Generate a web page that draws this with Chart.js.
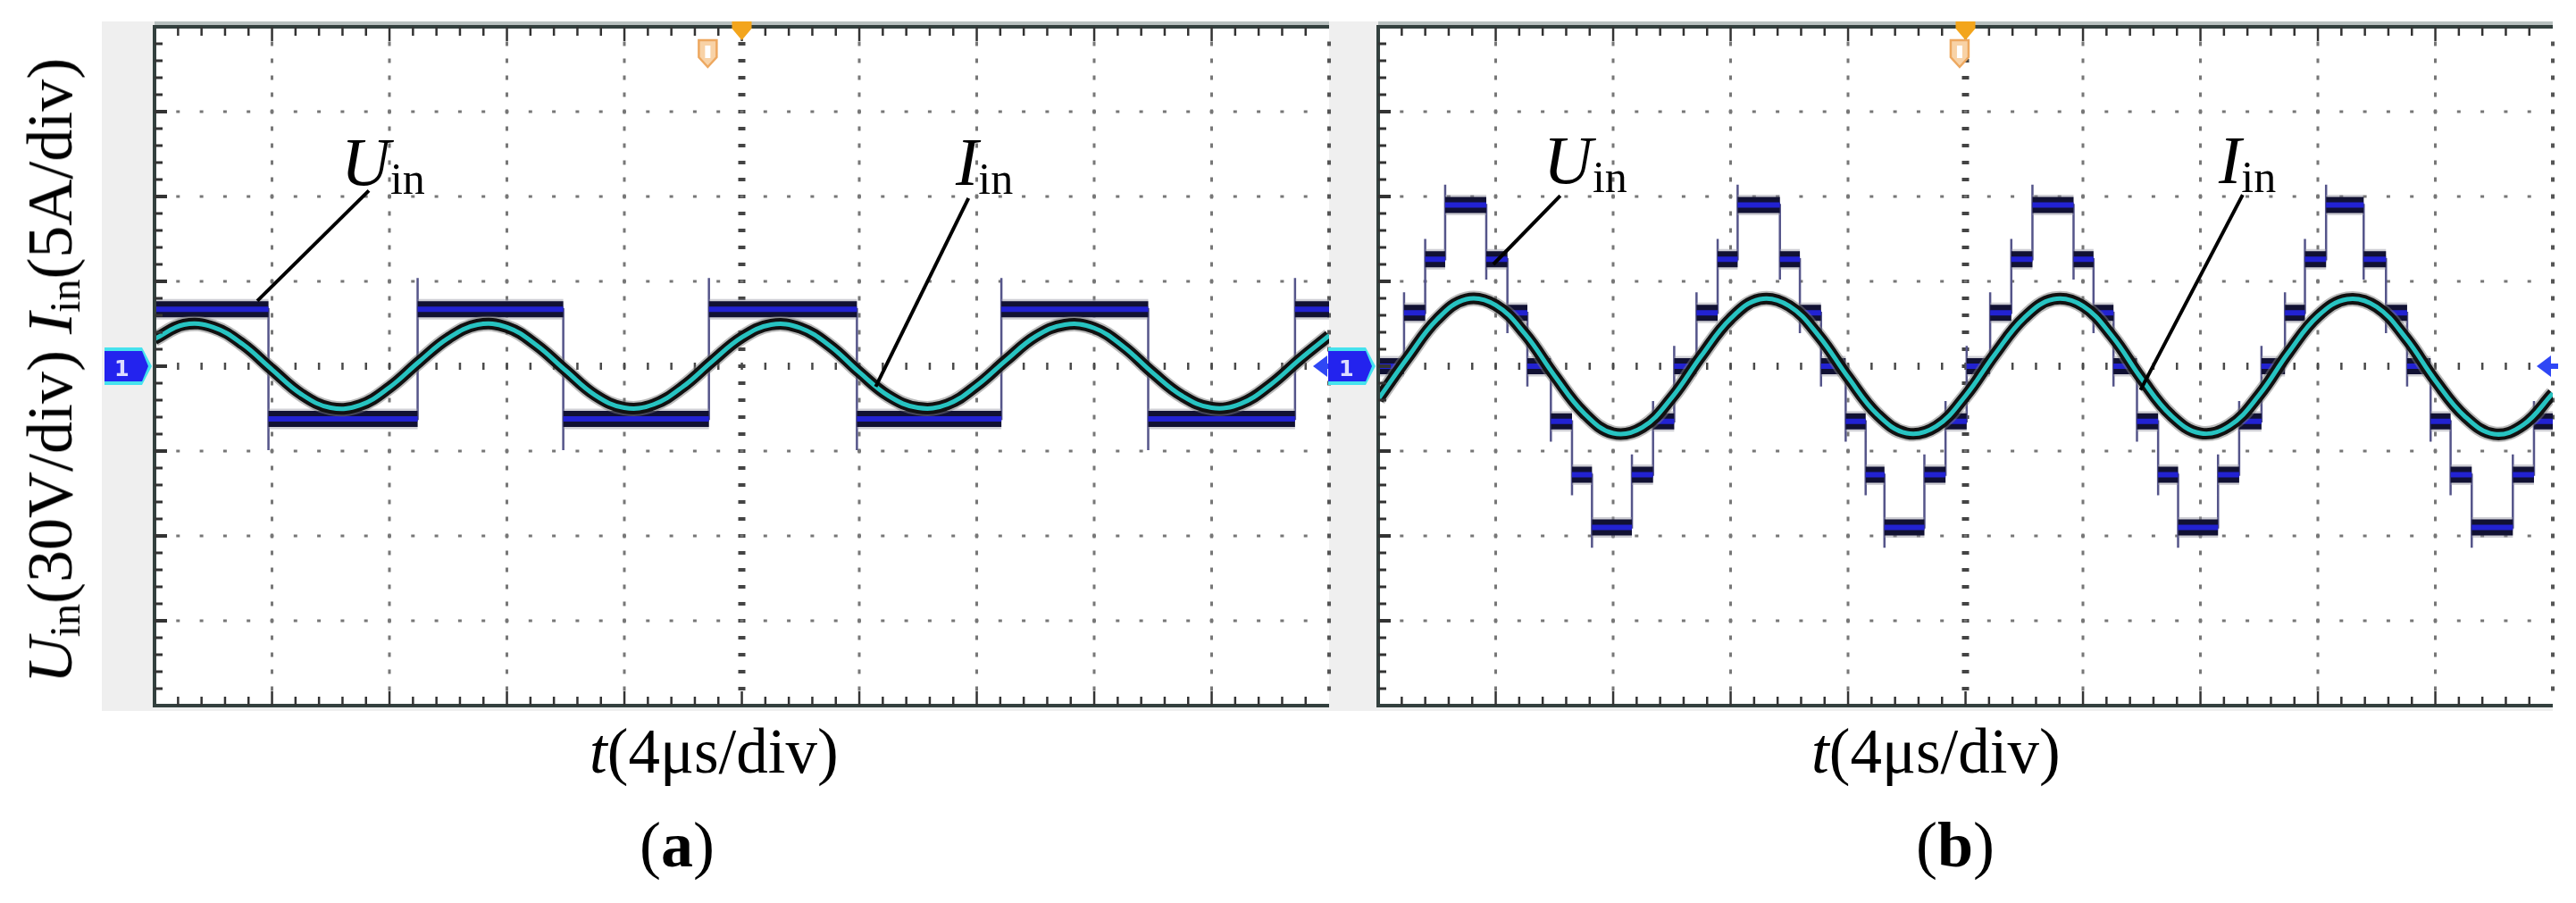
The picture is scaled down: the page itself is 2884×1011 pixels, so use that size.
<!DOCTYPE html>
<html>
<head>
<meta charset="utf-8">
<script src="https://cdn.jsdelivr.net/npm/chart.js@4.4.1/dist/chart.umd.min.js"></script>
<style>
  html, body { margin: 0; padding: 0; background: #fff; }
  #page { position: relative; width: 2884px; height: 1011px; overflow: hidden;
          font-family: 'Liberation Serif', 'Times New Roman', serif; color: #000; }
  #page canvas { position: absolute; left: 0; top: 0; }
  .backdrop { position: absolute; left: 114px; top: 24px; width: 2744px; height: 772px; background: #efefef; }
  .lbl { position: absolute; white-space: nowrap; z-index: 5; }
  .tag { font-size: 76px; line-height: 76px; }
  .tag .sub { position: relative; top: 10px; font-size: 50px; }
  .xt { font-size: 71px; line-height: 71px; top: 806px; }
  .cap { font-size: 72px; line-height: 72px; top: 910px; }
  .ylab { font-size: 72px; line-height: 72px; left: 60px; top: 415px;
          transform: translate(-50%, -50%) rotate(-90deg); }
  .ylab .sub { position: relative; top: 9px; font-size: 48px; }
  .ch { font-family: 'DejaVu Sans', sans-serif; font-weight: bold; font-size: 24px; line-height: 24px; color: #dcdcff; top: 401px; }
</style>
</head>
<body>
<div id="page">
  <div class="backdrop"></div>
  <canvas id="scopeA" width="2884" height="1011"></canvas>
  <canvas id="scopeB" width="2884" height="1011"></canvas>

  <div class="lbl ylab"><i>U</i><span class="sub">in</span>(30V/div) <i>I</i><span class="sub">in</span>(5A/div)</div>

  <div class="lbl tag" style="left:382px; top:143px;"><i>U</i><span class="sub">in</span></div>
  <div class="lbl tag" style="left:1070px; top:143px;"><i>I</i><span class="sub">in</span></div>
  <div class="lbl tag" style="left:1728px; top:141px;"><i>U</i><span class="sub">in</span></div>
  <div class="lbl tag" style="left:2484px; top:141px;"><i>I</i><span class="sub">in</span></div>

  <div class="lbl xt" style="left:660px;"><i>t</i>(4μs/div)</div>
  <div class="lbl xt" style="left:2028px;"><i>t</i>(4μs/div)</div>
  <div class="lbl cap" style="left:716px;">(<b>a</b>)</div>
  <div class="lbl cap" style="left:2145px;">(<b>b</b>)</div>

  <div class="lbl ch" style="left:128px;">1</div>
  <div class="lbl ch" style="left:1499px;">1</div>
</div>

<script>
// x in time divisions (0..10, 4 us/div), y in vertical divisions (-4..4)

// (a) two-level input voltage: switching instants and level of each segment
const uinA_edges = [0.97, 2.24, 3.48, 4.72, 5.98, 7.21, 8.46, 9.71];
const uinA_levels = [0.67, -0.62, 0.67, -0.62, 0.67, -0.62, 0.67, -0.62, 0.67];
const uinA_overshoot = 0.37;

// (b) seven-level staircase input voltage
const uinB_edges = [
  0.22, 0.40, 0.57, 0.92, 1.10, 1.27, 1.47, 1.65, 1.82, 2.16, 2.34, 2.52,
  2.71, 2.89, 3.06, 3.42, 3.59, 3.77, 3.98, 4.15, 4.31, 4.65, 4.83, 5.01,
  5.21, 5.39, 5.57, 5.92, 6.09, 6.26, 6.46, 6.64, 6.81, 7.15, 7.33, 7.52,
  7.72, 7.89, 8.07, 8.39, 8.58, 8.76, 8.96, 9.13, 9.31, 9.66, 9.84
];
const uinB_levels = [
  0, 0.63, 1.26, 1.9, 1.26, 0.63, 0, -0.65, -1.28, -1.9, -1.28, -0.65,
  0, 0.63, 1.26, 1.9, 1.26, 0.63, 0, -0.65, -1.28, -1.9, -1.28, -0.65,
  0, 0.63, 1.26, 1.9, 1.26, 0.63, 0, -0.65, -1.28, -1.9, -1.28, -0.65,
  0, 0.63, 1.26, 1.9, 1.26, 0.63, 0, -0.65, -1.28, -1.9, -1.28, -0.65
];
const uinB_overshoot = 0.24;

// input current samples, read every quarter division
const iinTimes = [
  0, 0.25, 0.5, 0.75, 1, 1.25, 1.5, 1.75, 2, 2.25, 2.5, 2.75, 3, 3.25,
  3.5, 3.75, 4, 4.25, 4.5, 4.75, 5, 5.25, 5.5, 5.75, 6, 6.25, 6.5, 6.75,
  7, 7.25, 7.5, 7.75, 8, 8.25, 8.5, 8.75, 9, 9.25, 9.5, 9.75, 10
];
const iinA = [
  0.32, 0.49, 0.46, 0.26, -0.04, -0.33, -0.49, -0.46, -0.25, 0.05, 0.33, 0.49, 0.46, 0.25,
  -0.05, -0.34, -0.49, -0.45, -0.24, 0.06, 0.34, 0.49, 0.45, 0.24, -0.07, -0.35, -0.49, -0.45,
  -0.23, 0.07, 0.35, 0.49, 0.45, 0.23, -0.08, -0.35, -0.49, -0.44, -0.22, 0.08, 0.36
];
const iinB = [
  -0.39, 0.10, 0.55, 0.79, 0.72, 0.38, -0.11, -0.55, -0.79, -0.72, -0.37, 0.12, 0.56, 0.79,
  0.71, 0.36, -0.13, -0.57, -0.79, -0.71, -0.35, 0.14, 0.57, 0.79, 0.71, 0.35, -0.15, -0.58,
  -0.79, -0.70, -0.34, 0.16, 0.59, 0.79, 0.70, 0.33, -0.17, -0.59, -0.80, -0.69, -0.32
];

// thin trace with the switching edges (and their ringing spike)
function edgeTrace(edges, levels, over) {
  const pts = [{x: 0, y: levels[0]}];
  edges.forEach((t, i) => {
    const from = levels[i], to = levels[i + 1];
    const tip = to + (to > from ? over : -over);
    pts.push({x: t, y: from}, {x: t, y: tip}, {x: t, y: to});
  });
  pts.push({x: 10, y: levels[levels.length - 1]});
  return pts;
}

// flat parts of the voltage only, drawn as thick noisy bands
function bandTrace(edges, levels) {
  const bounds = [0, ...edges, 10];
  const pts = [];
  levels.forEach((lv, i) => {
    pts.push({x: bounds[i], y: lv}, {x: bounds[i + 1], y: lv}, {x: bounds[i + 1], y: null});
  });
  return pts;
}

function panelDatasets(edges, levels, over, iin) {
  const wave = iinTimes.map((t, i) => ({x: t, y: iin[i]}));
  const bands = bandTrace(edges, levels);
  return [
    {data: wave, borderColor: '#27c3c1', borderWidth: 5, tension: 0.4, order: 0},
    {data: wave, borderColor: '#111', borderWidth: 13, tension: 0.4, order: 1},
    {data: wave, borderColor: 'rgba(120,120,120,0.5)', borderWidth: 17, tension: 0.4, order: 2},
    {data: bands, borderColor: '#2222d2', borderWidth: 6, order: 3},
    {data: bands, borderColor: '#111133', borderWidth: 18, order: 4},
    {data: bands, borderColor: 'rgba(150,150,165,0.45)', borderWidth: 23, order: 5},
    {data: edgeTrace(edges, levels, over), borderColor: '#55558a', borderWidth: 2.5, order: 6}
  ];
}

// oscilloscope graticule, border ticks and screen markers
const scopeFrame = {
  id: 'scopeFrame',
  beforeDatasetsDraw(chart, args, opts) {
    const {ctx, chartArea: a, scales: {x, y}} = chart;
    ctx.save();
    ctx.fillStyle = '#fff';
    ctx.fillRect(a.left, a.top, a.right - a.left, a.bottom - a.top);

    // vertical dotted lines
    for (let i = 1; i <= 10; i++) {
      const px = x.getPixelForValue(i);
      for (let k = 1; k < 40; k++) {
        const py = y.getPixelForValue(-4 + k * 0.2);
        if (i === 5) { ctx.fillStyle = '#444'; ctx.fillRect(px - 4, py - 2, 8, 4); }
        else if (i === 10) { ctx.fillStyle = '#555'; ctx.fillRect(px - 2, py - 2.5, 4, 5); }
        else { ctx.fillStyle = '#777'; ctx.fillRect(px - 1.5, py - 2.5, 3, 5); }
      }
    }
    // horizontal dotted lines
    for (let j = -3; j <= 3; j++) {
      const py = y.getPixelForValue(j);
      for (let k = 1; k < 50; k++) {
        const px = x.getPixelForValue(k * 0.2);
        if (j === 0) { ctx.fillStyle = '#4a4a4a'; ctx.fillRect(px - 1.2, py - 4, 2.5, 8); }
        else { ctx.fillStyle = '#777'; ctx.fillRect(px - 2, py - 1.5, 4, 3); }
      }
    }
    ctx.restore();
  },
  afterDatasetsDraw(chart, args, opts) {
    const {ctx, chartArea: a, scales: {x, y}} = chart;
    const w = a.right - a.left;
    ctx.save();

    // frame
    ctx.fillStyle = '#b8c0bf';
    ctx.fillRect(a.left, a.top - 6, w, 4);
    ctx.fillStyle = '#33403e';
    ctx.fillRect(a.left, a.top - 2, w, 4);
    ctx.fillRect(a.left, a.bottom - 2, w, 4);
    ctx.fillRect(a.left - 2, a.top - 2, 4, a.bottom - a.top + 4);

    // ticks on top / bottom
    for (let k = 1; k < 50; k++) {
      const px = x.getPixelForValue(k * 0.2);
      const len = k % 5 === 0 ? 16 : 10;
      ctx.fillStyle = '#333';
      ctx.fillRect(px - 1.2, a.top, 2.5, len);
      ctx.fillRect(px - 1.2, a.bottom - len, 2.5, len);
    }
    // ticks on the left edge
    for (let k = 1; k < 40; k++) {
      const py = y.getPixelForValue(-4 + k * 0.2);
      const major = k % 5 === 0;
      ctx.fillStyle = '#333';
      ctx.fillRect(a.left, py - (major ? 2 : 1.5), major ? 14 : 9, major ? 4 : 3);
    }

    // leader lines for the labels
    ctx.strokeStyle = '#000';
    ctx.lineWidth = 4;
    ctx.lineCap = 'butt';
    opts.leaders.forEach(([x1, y1, x2, y2]) => {
      ctx.beginPath();
      ctx.moveTo(x.getPixelForValue(x1), y.getPixelForValue(y1));
      ctx.lineTo(x.getPixelForValue(x2), y.getPixelForValue(y2));
      ctx.stroke();
    });

    // trigger position (filled) and trigger level (hollow) markers
    const tx = x.getPixelForValue(5);
    ctx.fillStyle = '#f3a51c';
    ctx.beginPath();
    ctx.moveTo(tx - 11, a.top - 6);
    ctx.lineTo(tx + 11, a.top - 6);
    ctx.lineTo(tx + 11, a.top + 2);
    ctx.lineTo(tx, a.top + 15);
    ctx.lineTo(tx - 11, a.top + 2);
    ctx.closePath();
    ctx.fill();

    const hx = x.getPixelForValue(opts.hollowAt);
    const ht = a.top + 15;
    ctx.beginPath();
    ctx.moveTo(hx - 10, ht);
    ctx.lineTo(hx + 10, ht);
    ctx.lineTo(hx + 10, ht + 19);
    ctx.lineTo(hx, ht + 30);
    ctx.lineTo(hx - 10, ht + 19);
    ctx.closePath();
    ctx.fillStyle = '#f8d2a6';
    ctx.fill();
    ctx.strokeStyle = '#eda860';
    ctx.lineWidth = 2.5;
    ctx.stroke();
    ctx.fillStyle = '#fff';
    ctx.fillRect(hx - 3, ht + 6, 6, 14);

    // channel 1 ground marker on the left
    const gy = y.getPixelForValue(0);
    const l = a.left;
    const shape = (inset) => {
      ctx.beginPath();
      ctx.moveTo(l - 56, gy - 21 + inset);
      ctx.lineTo(l - 14, gy - 21 + inset);
      ctx.lineTo(l - 3 - inset, gy);
      ctx.lineTo(l - 14, gy + 21 - inset);
      ctx.lineTo(l - 56, gy + 21 - inset);
      ctx.closePath();
      ctx.fill();
    };
    ctx.fillStyle = '#45e2ee';
    shape(0);
    ctx.fillStyle = '#2323ee';
    shape(4);

    // channel arrow on the right edge
    const r = a.right;
    ctx.fillStyle = '#2f47f5';
    ctx.beginPath();
    ctx.moveTo(r - 18, gy);
    ctx.lineTo(r - 2, gy - 12);
    ctx.lineTo(r - 2, gy + 12);
    ctx.closePath();
    ctx.fill();
    ctx.fillRect(r - 4, gy - 3, 10, 6);

    ctx.restore();
  }
};

function scopeOptions(pad, opts) {
  return {
    responsive: false,
    animation: false,
    devicePixelRatio: 1,
    layout: {padding: pad},
    elements: {point: {radius: 0}, line: {borderCapStyle: 'butt', borderJoinStyle: 'miter'}},
    datasets: {line: {clip: 0, fill: false}},
    scales: {
      x: {type: 'linear', min: 0, max: 10, display: false},
      y: {type: 'linear', min: -4, max: 4, display: false}
    },
    plugins: {legend: {display: false}, tooltip: {enabled: false}, scopeFrame: opts}
  };
}

new Chart(document.getElementById('scopeA').getContext('2d'), {
  type: 'line',
  data: {datasets: panelDatasets(uinA_edges, uinA_levels, uinA_overshoot, iinA)},
  options: scopeOptions({left: 173, right: 1396, top: 30, bottom: 221}, {
    hollowAt: 4.71,
    leaders: [[1.825, 2.07, 0.875, 0.77], [6.93, 1.98, 6.14, -0.24]]
  }),
  plugins: [scopeFrame]
});

new Chart(document.getElementById('scopeB').getContext('2d'), {
  type: 'line',
  data: {datasets: panelDatasets(uinB_edges, uinB_levels, uinB_overshoot, iinB)},
  options: scopeOptions({left: 1543, right: 26, top: 30, bottom: 221}, {
    hollowAt: 4.95,
    leaders: [[1.55, 2.01, 0.98, 1.2], [7.36, 2.02, 6.49, -0.28]]
  }),
  plugins: [scopeFrame]
});
</script>
</body>
</html>
